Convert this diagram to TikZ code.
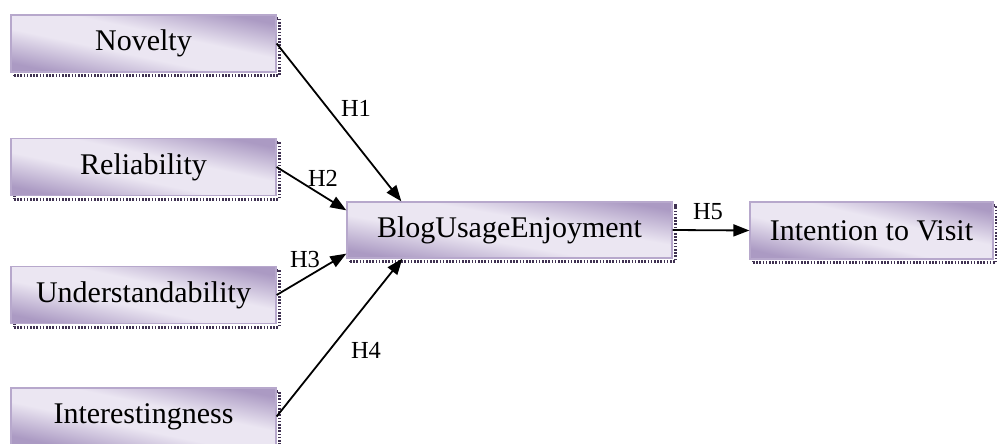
\documentclass[tikz,border=0pt]{standalone}
\usepackage{fontspec}
\setmainfont{Liberation Serif}
\usetikzlibrary{arrows.meta,calc}
\definecolor{lavdark}{HTML}{AB9AC3}
\definecolor{lavlight}{HTML}{EBE6F2}
\definecolor{lavedge}{HTML}{B7A8CC}
\definecolor{shadowc}{HTML}{3F3151}
% lavender gradient: pale band through the middle, darker towards two corners
\pgfdeclareverticalshading{lavband}{100bp}{%
  color(0bp)=(lavdark); color(25bp)=(lavdark); color(43bp)=(lavlight);
  color(57bp)=(lavlight); color(75bp)=(lavdark); color(100bp)=(lavdark)}
\tikzset{
  construct/.style={
    rectangle, inner sep=0pt, minimum height=57pt,
    draw=lavedge, line width=1.3pt,
    shading=lavband, shading angle=-12,
    font=\fontsize{30}{36}\selectfont, text=black,
    preaction={draw=shadowc, line width=3pt, dash pattern=on 1.6pt off 1.6pt,
      transform canvas={shift={(3pt,-3.5pt)}}}
  },
  link/.style={line width=1.8pt, -{Triangle[length=16pt,width=12pt]}},
  hyp/.style={font=\fontsize{24.5}{29}\selectfont, inner sep=0pt}
}
\begin{document}
\begin{tikzpicture}[x=1pt,y=-1pt]
  \useasboundingbox (0,0) rectangle (997,444);

  % antecedent constructs
  \node[construct, minimum width=265pt] (nov) at (143.5,43.5) {Novelty};
  \node[construct, minimum width=265pt] (rel) at (143.5,167) {Reliability};
  \node[construct, minimum width=265pt] (und) at (143.5,295) {Understandability};
  \node[construct, minimum width=265pt] (int) at (143.5,416.5) {Interestingness};

  % mediator and outcome
  \node[construct, minimum width=325pt, minimum height=56pt, shading angle=-10] (blog) at (509.5,230) {BlogUsageEnjoyment};
  \node[construct, minimum width=243pt, shading angle=-13] (vis) at (871.5,230.5) {Intention to Visit};

  % hypothesised paths
  \draw[link] (nov.east) -- ($(blog.north west)+(55,0)$);
  \draw[link] (rel.east) -- ($(blog.north west)+(0,9)$);
  \draw[link] (und.east) -- ($(blog.south west)+(0,-5)$);
  \draw[link] (int.east) -- ($(blog.south west)+(56,0)$);
  \draw[link] (blog.east) -- (vis.west);

  % path labels
  \node[hyp] (h1) at (356,108) {H1};
  \node[hyp] (h2) at (323,178) {H2};
  \node[hyp] (h3) at (305,260) {H3};
  \node[hyp] (h4) at (366,350) {H4};
  \node[hyp] (h5) at (708,212) {H5};
\end{tikzpicture}
\end{document}
